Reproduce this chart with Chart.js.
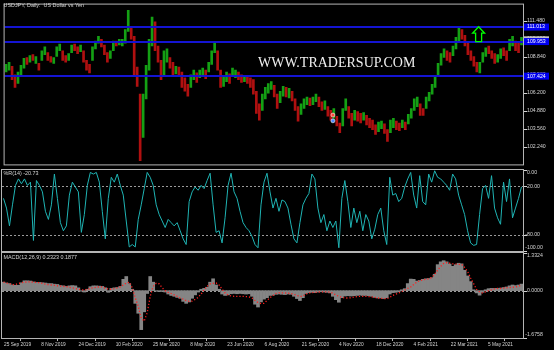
<!DOCTYPE html>
<html>
<head>
<meta charset="utf-8">
<title>USDJPY Daily</title>
<script src="https://cdn.jsdelivr.net/npm/chart.js@4.4.1/dist/chart.umd.min.js"></script>
<style>
  html, body { margin: 0; padding: 0; background: #000; }
  #terminal { position: relative; width: 554px; height: 350px; background: #000; overflow: hidden; }
  .pane { position: absolute; left: 0; width: 554px; }
</style>
</head>
<body>
<div id="terminal">
  <div class="pane" style="top:0;height:169px"><canvas id="priceChart"></canvas></div>
  <div class="pane" style="top:169px;height:83px"><canvas id="wprChart"></canvas></div>
  <div class="pane" style="top:252px;height:98px"><canvas id="macdChart"></canvas></div>
</div>
<script>
// ==========================================================
// 1. DATOS (leídos a ojo del gráfico, una barra cada ~3 px)
// ==========================================================
const opens = [
  107.73, 107.87, 108.15, 107.52, 106.89, 107.45, 108.01, 108.79, 108.44, 109.00,
  108.36, 108.36, 108.58, 109.00, 109.14, 108.86, 108.36, 108.86, 109.28, 109.28,
  108.93, 108.58, 109.14, 109.77, 109.56, 109.21, 109.28, 108.58, 108.29, 108.58,
  109.42, 109.84, 110.12, 109.70, 109.14, 108.72, 109.28, 109.98, 109.70, 109.63,
  109.84, 110.69, 111.04, 110.34, 108.08, 106.11, 102.94, 105.76, 107.87, 109.63,
  111.39, 109.63, 108.58, 107.52, 108.44, 108.79, 108.44, 107.59, 108.08, 107.73,
  107.31, 106.82, 106.60, 107.17, 107.66, 107.31, 107.45, 107.87, 107.73, 108.29,
  109.14, 109.28, 107.87, 106.68, 107.03, 107.59, 107.45, 107.31, 107.73, 107.52,
  107.03, 107.45, 107.31, 107.17, 106.32, 105.41, 104.92, 105.76, 106.18, 106.46,
  106.75, 106.11, 105.48, 105.97, 106.60, 105.83, 106.32, 105.76, 105.20, 104.63,
  105.06, 105.34, 105.83, 105.34, 105.55, 105.90, 105.55, 104.99, 105.20, 104.92,
  104.35, 104.49, 104.00, 103.79, 104.92, 105.20, 104.70, 104.21, 104.84, 104.70,
  104.21, 104.56, 104.35, 104.21, 103.86, 103.37, 103.58, 103.93, 103.51, 103.30,
  103.65, 104.14, 104.00, 103.65, 104.07, 103.93, 104.35, 104.92, 105.20, 105.41,
  105.06, 105.06, 105.62, 106.11, 106.60, 107.38, 108.22, 108.79, 109.28, 109.14,
  108.93, 109.42, 109.98, 110.83, 110.41, 109.84, 109.28, 108.86, 108.44, 107.66,
  108.44, 108.86, 109.63, 109.28, 109.07, 108.44, 108.72, 109.49, 109.28, 109.28,
  109.63, 109.98, 109.84, 109.70
];
const closes = [
  108.29, 108.44, 107.17, 106.60, 107.73, 108.22, 108.72, 108.29, 108.93, 108.58,
  108.86, 107.87, 109.28, 109.56, 108.58, 108.44, 108.79, 109.56, 109.77, 108.58,
  108.44, 109.07, 109.70, 109.28, 109.07, 109.70, 108.44, 107.87, 107.66, 109.56,
  109.98, 110.34, 109.56, 109.00, 108.44, 109.28, 109.98, 109.63, 110.12, 110.12,
  110.83, 112.24, 110.12, 107.38, 106.68, 101.25, 106.11, 108.22, 110.12, 111.74,
  109.28, 108.44, 107.17, 109.28, 109.42, 108.01, 107.52, 108.15, 107.38, 106.60,
  106.32, 105.97, 107.52, 107.87, 106.96, 107.87, 108.01, 107.24, 108.44, 109.28,
  109.84, 107.87, 106.60, 107.38, 107.73, 106.89, 108.01, 107.87, 107.17, 106.96,
  107.45, 106.89, 106.60, 106.11, 104.70, 104.21, 106.11, 106.60, 106.89, 107.03,
  105.90, 105.06, 106.32, 106.68, 105.90, 106.53, 105.62, 104.92, 104.14, 105.41,
  105.76, 105.90, 105.27, 105.90, 106.11, 105.20, 104.92, 105.62, 104.49, 104.21,
  105.06, 103.79, 103.30, 105.06, 105.76, 104.35, 103.79, 104.92, 104.14, 104.00,
  104.77, 103.86, 103.65, 103.51, 103.16, 104.07, 104.14, 103.23, 102.66, 104.21,
  104.35, 103.51, 103.44, 104.21, 103.51, 104.63, 105.06, 105.76, 105.90, 104.56,
  104.56, 105.90, 106.25, 106.82, 107.45, 108.36, 109.07, 109.42, 108.58, 108.44,
  109.63, 110.27, 110.97, 110.12, 109.63, 109.00, 108.58, 108.15, 107.73, 108.44,
  109.14, 109.49, 109.07, 108.72, 108.36, 109.00, 109.42, 108.93, 108.58, 110.12,
  110.34, 109.28, 109.14, 110.27
];
const priceMin = 100.973;
const priceMax = 112.655;
const priceTicks = [111.48, 110.16, 108.84, 107.52, 106.20, 104.88, 103.56, 102.24];
const levelPrices = [111.013, 109.953, 107.424];
const bidPrice = 110.08;
const markBars = [109.7, 109.7];
const markPrices = [104.58, 104.16];
const arrowMark = { bar: 158.6, price: 111.04 };

const wpr = [
  -35, -47, -69, -43, -19, -11, -17, -11, -19, -15,
  -87, -13, -19, -27, -51, -61, -43, -5, -35, -65,
  -75, -69, -31, -15, -21, -27, -77, -55, -19, -3,
  -5, -3, -15, -51, -85, -35, -9, -15, -5, -19,
  -31, -63, -95, -92, -95, -61, -43, -23, -3, -9,
  -19, -43, -55, -63, -71, -61, -65, -69, -65, -75,
  -85, -92, -39, -27, -21, -25, -19, -23, -13, -4,
  -43, -77, -75, -90, -59, -19, -4, -27, -35, -51,
  -65, -71, -75, -82, -92, -96, -43, -15, -4, -27,
  -47, -35, -51, -37, -39, -47, -67, -85, -90, -65,
  -43, -35, -29, -5, -11, -47, -65, -55, -75, -63,
  -71, -63, -96, -35, -13, -39, -71, -47, -65, -51,
  -75, -55, -63, -85, -73, -55, -47, -75, -92, -9,
  -31, -29, -39, -35, -21, -11, -3, -31, -47, -7,
  -39, -43, -5, -15, -1, -9, -11, -15, -19, -25,
  -5, -11, -31, -43, -55, -75, -90, -93, -92, -55,
  -23, -19, -35, -7, -47, -59, -67, -15, -39, -11,
  -59, -47, -35, -20.73
];
const wprTicks = [0, -20, -80, -100];
const wprLevels = [-20, -80];

const macdHist = [
  0.30, 0.27, 0.25, 0.20, 0.19, 0.19, 0.28, 0.35, 0.35, 0.34,
  0.31, 0.29, 0.29, 0.28, 0.27, 0.25, 0.25, 0.23, 0.22, 0.18,
  0.17, 0.15, 0.17, 0.18, 0.17, 0.10, -0.02, -0.05, 0.05, 0.14,
  0.17, 0.17, 0.16, 0.15, 0.10, -0.06, 0.08, 0.10, 0.11, 0.15,
  0.40, 0.50, 0.25, 0.05, -0.45, -0.80, -1.38, -0.75, -0.10, 0.50,
  0.30, -0.02, -0.03, -0.03, -0.05, -0.12, -0.17, -0.20, -0.24, -0.27,
  -0.38, -0.45, -0.40, -0.27, -0.15, -0.05, 0.05, 0.08, 0.12, 0.30,
  0.42, 0.20, 0.05, -0.12, -0.17, -0.15, -0.11, -0.10, -0.11, -0.10,
  -0.11, -0.12, -0.11, -0.20, -0.48, -0.58, -0.40, -0.30, -0.25, -0.17,
  -0.16, -0.13, -0.12, -0.13, -0.14, -0.12, -0.13, -0.20, -0.28, -0.35,
  -0.25, -0.10, -0.07, -0.06, -0.07, -0.05, -0.04, -0.05, -0.06, -0.08,
  -0.20, -0.32, -0.41, -0.25, -0.19, -0.18, -0.19, -0.18, -0.17, -0.16,
  -0.17, -0.17, -0.18, -0.20, -0.24, -0.26, -0.26, -0.28, -0.25, -0.12,
  -0.07, -0.06, -0.03, 0.03, 0.07, 0.25, 0.41, 0.40, 0.34, 0.36,
  0.40, 0.42, 0.43, 0.46, 0.58, 0.92, 1.02, 1.06, 1.02, 0.94,
  0.86, 0.92, 0.97, 0.95, 0.72, 0.52, 0.32, 0.03, -0.08, -0.16,
  -0.06, 0.03, 0.07, 0.08, 0.08, 0.08, 0.09, 0.11, 0.13, 0.17,
  0.20, 0.18, 0.20, 0.2323
];
const macdSignal = [
  0.30, 0.27, 0.24, 0.21, 0.22, 0.25, 0.28, 0.30, 0.31, 0.31,
  0.30, 0.29, 0.28, 0.26, 0.23, 0.21, 0.20, 0.19, 0.17, 0.16,
  0.15, 0.14, 0.12, 0.10, 0.08, 0.05, 0.03, 0.02, 0.04, 0.08,
  0.10, 0.12, 0.14, 0.13, 0.09, 0.05, 0.05, 0.07, 0.10, 0.13,
  0.20, 0.27, 0.30, 0.10, -0.25, -0.55, -0.98, -1.08, -0.78, -0.20,
  0.15, 0.26, 0.24, 0.10, 0.00, -0.06, -0.10, -0.15, -0.20, -0.26,
  -0.30, -0.35, -0.38, -0.37, -0.31, -0.24, -0.12, 0.03, 0.15, 0.24,
  0.26, 0.27, 0.20, 0.05, -0.08, -0.15, -0.19, -0.20, -0.20, -0.20,
  -0.20, -0.21, -0.22, -0.26, -0.35, -0.42, -0.46, -0.45, -0.35, -0.25,
  -0.17, -0.10, -0.08, -0.08, -0.08, -0.09, -0.10, -0.13, -0.17, -0.20,
  -0.20, -0.12, -0.08, -0.07, -0.06, -0.05, -0.04, -0.04, -0.04, -0.05,
  -0.09, -0.15, -0.20, -0.24, -0.26, -0.26, -0.25, -0.23, -0.21, -0.20,
  -0.20, -0.20, -0.21, -0.22, -0.24, -0.26, -0.27, -0.28, -0.29, -0.24,
  -0.17, -0.13, -0.08, -0.03, 0.02, 0.08, 0.13, 0.22, 0.30, 0.35,
  0.38, 0.40, 0.42, 0.46, 0.58, 0.73, 0.86, 0.96, 0.99, 0.97,
  0.95, 0.94, 0.93, 0.93, 0.82, 0.68, 0.45, 0.25, 0.04, -0.04,
  -0.08, -0.04, 0.00, 0.03, 0.06, 0.08, 0.08, 0.09, 0.10, 0.11,
  0.12, 0.13, 0.16, 0.1877
];
const macdTicks = [1.3324, 0, -1.6758];

const dateLabels = ['25 Sep 2019', '8 Nov 2019', '24 Dec 2019', '10 Feb 2020', '25 Mar 2020', '8 May 2020',
  '23 Jun 2020', '6 Aug 2020', '21 Sep 2020', '4 Nov 2020', '18 Dec 2020', '4 Feb 2021', '22 Mar 2021', '5 May 2021'];
const dateTickBars = [-0.5, 11.93, 24.37, 36.8, 49.23, 61.67, 74.1, 86.53, 98.97, 111.4, 123.83, 136.27, 148.7, 161.13];

// ==========================================================
// 2. ESTILO COMÚN (terminal MT4 fondo negro)
// ==========================================================
const FONT = '"Liberation Sans", Arial, sans-serif';
const TEXT = '#d4d4d4';
const FRAME = '#b4b4b4';
const UP = '#14a014';
const DOWN = '#b01010';
const AXIS_W = 31;

function xAxis() {
  return { type: 'linear', min: -0.5, max: opens.length - 0.5, offset: false, display: false };
}

function baseOptions(padding, yMin, yMax, xScale) {
  return {
    responsive: true,
    maintainAspectRatio: false,
    animation: false,
    devicePixelRatio: 1,
    events: [],
    layout: { padding: padding },
    plugins: { legend: { display: false }, tooltip: { enabled: false } },
    scales: { x: xScale || xAxis(), y: { display: false, min: yMin, max: yMax } }
  };
}

// marco, escala derecha, niveles punteados y título de cada panel
function paneDecor(cfg) {
  return {
    id: 'paneDecor',
    beforeDatasetsDraw(chart) {
      const { ctx, chartArea: a } = chart;
      const y = chart.scales.y;
      ctx.save();
      ctx.strokeStyle = '#9a9a9a';
      ctx.lineWidth = 1;
      ctx.setLineDash([2, 2]);
      (cfg.dotted || []).forEach(v => {
        const py = Math.round(y.getPixelForValue(v)) + 0.5;
        ctx.beginPath(); ctx.moveTo(a.left, py); ctx.lineTo(a.right, py); ctx.stroke();
      });
      ctx.restore();
    },
    afterDatasetsDraw(chart) {
      const { ctx, chartArea: a } = chart;
      const y = chart.scales.y;
      ctx.save();
      if (cfg.overlay) cfg.overlay(chart, ctx, a);

      ctx.strokeStyle = FRAME;
      ctx.lineWidth = 1;
      ctx.setLineDash([]);
      ctx.strokeRect(a.left - 0.5, a.top - 0.5, a.right - a.left + 1, a.bottom - a.top + 1);

      ctx.font = '5.2px ' + FONT;
      ctx.fillStyle = TEXT;
      ctx.textBaseline = 'middle';
      ctx.textAlign = 'left';
      cfg.ticks.forEach(v => {
        const py = y.getPixelForValue(v);
        ctx.fillRect(a.right + 1, Math.round(py), 3, 1);
        const ty = Math.min(Math.max(py, a.top + 2.5), a.bottom - 3);
        const dx = v < 0 ? ctx.measureText('-').width : 0;
        ctx.fillText(v.toFixed(cfg.decimals), a.right + 4 - dx, ty);
      });
      if (cfg.axisOverlay) cfg.axisOverlay(chart, ctx, a);

      ctx.font = '5.4px ' + FONT;
      ctx.fillStyle = TEXT;
      ctx.fillText(cfg.title, 3.5, cfg.titleY);
      ctx.restore();
    }
  };
}

// ==========================================================
// 3. PANEL DE PRECIO
// ==========================================================
new Chart(document.getElementById('priceChart'), {
  type: 'bar',
  data: {
    datasets: [
      {
        type: 'scatter',
        data: markBars.map((b, i) => ({ x: b, y: markPrices[i] })),
        pointRadius: 2,
        pointBackgroundColor: ['#ff4a3a', '#4a8cff'],
        pointBorderColor: '#ffffff',
        pointBorderWidth: 0.6
      },
      {
        type: 'bar',
        data: opens.map((o, i) => ({ x: i, y: [o, closes[i]] })),
        backgroundColor: opens.map((o, i) => (closes[i] >= o ? UP : DOWN)),
        barThickness: 2,
        borderWidth: 0
      }
    ]
  },
  options: baseOptions({ left: 2, right: AXIS_W, top: 2, bottom: 1 }, priceMin, priceMax),
  plugins: [paneDecor({
    ticks: priceTicks,
    decimals: 3,
    title: 'USDJPY, Daily:  US Dollar vs Yen',
    titleY: 5.5,
    overlay(chart, ctx, a) {
      const x = chart.scales.x, y = chart.scales.y;
      ctx.fillStyle = '#1414d2';
      levelPrices.forEach(p => {
        const py = Math.round(y.getPixelForValue(p));
        ctx.fillRect(a.left, py - 1, a.right - a.left, 2);
      });
      ctx.font = '14px "Liberation Serif", "Times New Roman", serif';
      ctx.fillStyle = '#f0f0f0';
      ctx.textBaseline = 'middle';
      ctx.fillText('WWW.TRADERSUP.COM', 258, 63);

      const ax = x.getPixelForValue(arrowMark.bar), ay = y.getPixelForValue(arrowMark.price);
      ctx.strokeStyle = '#00ff00';
      ctx.lineWidth = 1.3;
      ctx.beginPath();
      ctx.moveTo(ax, ay);
      ctx.lineTo(ax + 6, ay + 6.5);
      ctx.lineTo(ax + 3, ay + 6.5);
      ctx.lineTo(ax + 3, ay + 15);
      ctx.lineTo(ax - 3, ay + 15);
      ctx.lineTo(ax - 3, ay + 6.5);
      ctx.lineTo(ax - 6, ay + 6.5);
      ctx.closePath();
      ctx.stroke();
    },
    axisOverlay(chart, ctx, a) {
      const y = chart.scales.y;
      const by = y.getPixelForValue(bidPrice);
      ctx.fillStyle = '#c4c4c4';
      ctx.fillRect(a.right + 1, by - 3.5, 25, 7);
      levelPrices.forEach(p => {
        const py = y.getPixelForValue(p);
        ctx.fillStyle = '#0000f0';
        ctx.fillRect(a.right + 1, py - 3.5, 25, 7);
        ctx.fillStyle = '#ffffff';
        ctx.fillText(p.toFixed(3), a.right + 4, py);
      });
    }
  })]
});

// ==========================================================
// 4. PANEL WILLIAMS %R(14)
// ==========================================================
new Chart(document.getElementById('wprChart'), {
  type: 'line',
  data: {
    datasets: [{
      data: wpr.map((v, i) => ({ x: i, y: v })),
      borderColor: '#1fb4b4',
      borderWidth: 1,
      pointRadius: 0,
      tension: 0
    }]
  },
  options: baseOptions({ left: 2, right: AXIS_W, top: 1, bottom: 1 }, -100, 0),
  plugins: [paneDecor({
    ticks: wprTicks,
    decimals: 2,
    dotted: wprLevels,
    title: '%R(14) ' + wpr[wpr.length - 1].toFixed(2),
    titleY: 5
  })]
});

// ==========================================================
// 5. PANEL MACD(12,26,9) + EJE DE FECHAS
// ==========================================================
const dateAxis = {
  type: 'linear',
  min: -0.5,
  max: opens.length - 0.5,
  offset: false,
  afterBuildTicks: s => { s.ticks = dateTickBars.map(v => ({ value: v })); },
  afterFit: s => { s.height = 12; },
  border: { display: false },
  grid: { drawOnChartArea: false, drawTicks: true, tickLength: 3, color: FRAME },
  ticks: {
    autoSkip: false,
    maxRotation: 0,
    align: 'start',
    labelOffset: 2,
    padding: 1,
    color: TEXT,
    font: { size: 4.8, family: FONT },
    callback: (v, i) => dateLabels[i]
  }
};

new Chart(document.getElementById('macdChart'), {
  type: 'bar',
  data: {
    datasets: [
      {
        type: 'line',
        data: macdSignal.map((v, i) => ({ x: i, y: v })),
        borderColor: '#ff2020',
        borderWidth: 1.3,
        borderDash: [1.2, 2],
        pointRadius: 0,
        tension: 0
      },
      {
        type: 'bar',
        data: macdHist.map((v, i) => ({ x: i, y: v })),
        backgroundColor: '#858585',
        barThickness: 3,
        borderWidth: 0
      }
    ]
  },
  options: baseOptions({ left: 2, right: AXIS_W, top: 1, bottom: 0 }, -1.6758, 1.3324, dateAxis),
  plugins: [paneDecor({
    ticks: macdTicks,
    decimals: 4,
    dotted: [0],
    title: 'MACD(12,26,9) ' + macdHist[macdHist.length - 1].toFixed(4) + ' ' + macdSignal[macdSignal.length - 1].toFixed(4),
    titleY: 6
  })]
});
</script>
</body>
</html>
